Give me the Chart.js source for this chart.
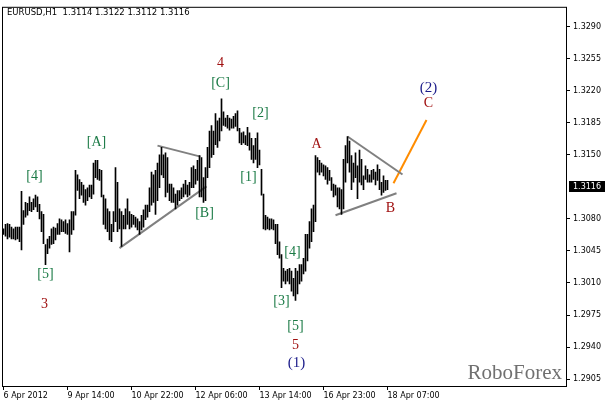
<!DOCTYPE html>
<html>
<head>
<meta charset="utf-8">
<script src="https://cdn.jsdelivr.net/npm/chart.js@4"></script>
<style>
html,body{margin:0;padding:0;background:#fff;}
canvas{display:block;}
</style>
</head>
<body>
<canvas id="eurusdChart" width="606" height="404"></canvas>
<script>
// EURUSD H1 bars, 6 Apr 2012 .. 18 Apr 07:00 (one value per hour bar)
const highs = [
 1.3069,1.3074,1.3075,1.3074,1.3071,1.3069,1.3071,1.3071,1.3071,1.3110,
 1.3089,1.3098,1.3097,1.3104,1.3098,1.3102,1.3106,1.3104,1.3096,1.3088,
 1.3085,1.3052,1.3058,1.3061,1.3069,1.3071,1.3070,1.3075,1.3080,1.3079,
 1.3077,1.3079,1.3075,1.3079,1.3088,1.3088,1.3133,1.3128,1.3123,1.3120,
 1.3117,1.3112,1.3114,1.3117,1.3117,1.3141,1.3144,1.3144,1.3134,1.3133,
 1.3106,1.3102,1.3091,1.3088,1.3074,1.3088,1.3136,1.3120,1.3091,1.3088,
 1.3084,1.3091,1.3102,1.3088,1.3085,1.3084,1.3082,1.3080,1.3077,1.3084,
 1.3090,1.3095,1.3095,1.3114,1.3131,1.3128,1.3133,1.3141,1.3150,1.3158,
 1.3150,1.3152,1.3147,1.3118,1.3118,1.3114,1.3107,1.3111,1.3111,1.3114,
 1.3118,1.3122,1.3117,1.3120,1.3136,1.3138,1.3134,1.3144,1.3149,1.3147,
 1.3125,1.3136,1.3158,1.3176,1.3182,1.3176,1.3195,1.3187,1.3190,1.3211,
 1.3197,1.3190,1.3193,1.3190,1.3189,1.3192,1.3195,1.3198,1.3179,1.3174,
 1.3175,1.3171,1.3180,1.3174,1.3168,1.3160,1.3168,1.3174,1.3155,1.3134,
 1.3107,1.3084,1.3082,1.3080,1.3080,1.3079,1.3074,1.3074,1.3055,1.3041,
 1.3026,1.3023,1.3025,1.3026,1.3023,1.3015,1.3026,1.3023,1.3030,1.3030,
 1.3037,1.3063,1.3063,1.3077,1.3091,1.3095,1.3149,1.3147,1.3144,1.3141,
 1.3139,1.3138,1.3136,1.3133,1.3125,1.3118,1.3117,1.3114,1.3114,1.3112,
 1.3145,1.3160,1.3170,1.3165,1.3149,1.3141,1.3152,1.3138,1.3155,1.3145,
 1.3127,1.3138,1.3134,1.3128,1.3133,1.3134,1.3131,1.3139,1.3134,1.3120,
 1.3127,1.3122,1.3122
];
const lows = [
 1.3063,1.3061,1.3058,1.3060,1.3058,1.3058,1.3057,1.3058,1.3055,1.3046,
 1.3074,1.3082,1.3084,1.3089,1.3088,1.3090,1.3093,1.3088,1.3080,1.3066,
 1.3053,1.3030,1.3042,1.3048,1.3052,1.3053,1.3057,1.3063,1.3063,1.3066,
 1.3066,1.3064,1.3063,1.3044,1.3063,1.3068,1.3084,1.3111,1.3102,1.3106,
 1.3098,1.3095,1.3100,1.3104,1.3102,1.3107,1.3125,1.3123,1.3122,1.3104,
 1.3074,1.3069,1.3066,1.3057,1.3055,1.3066,1.3077,1.3066,1.3069,1.3050,
 1.3069,1.3069,1.3074,1.3069,1.3071,1.3074,1.3071,1.3068,1.3063,1.3068,
 1.3071,1.3079,1.3082,1.3088,1.3095,1.3098,1.3085,1.3100,1.3114,1.3128,
 1.3125,1.3104,1.3109,1.3100,1.3098,1.3098,1.3091,1.3095,1.3100,1.3102,
 1.3104,1.3107,1.3104,1.3106,1.3114,1.3114,1.3118,1.3122,1.3104,1.3104,
 1.3098,1.3100,1.3125,1.3136,1.3147,1.3150,1.3161,1.3158,1.3165,1.3176,
 1.3182,1.3181,1.3179,1.3177,1.3179,1.3179,1.3181,1.3176,1.3163,1.3161,
 1.3163,1.3161,1.3160,1.3155,1.3145,1.3141,1.3145,1.3136,1.3139,1.3106,
 1.3069,1.3068,1.3069,1.3068,1.3069,1.3068,1.3053,1.3041,1.3037,1.3005,
 1.3012,1.3009,1.3012,1.3009,1.3001,1.2996,1.2991,1.2998,1.3009,1.3012,
 1.3020,1.3023,1.3034,1.3048,1.3055,1.3066,1.3077,1.3131,1.3128,1.3131,
 1.3127,1.3123,1.3118,1.3122,1.3111,1.3104,1.3106,1.3093,1.3091,1.3085,
 1.3091,1.3120,1.3141,1.3131,1.3112,1.3120,1.3125,1.3102,1.3120,1.3117,
 1.3112,1.3123,1.3120,1.3120,1.3120,1.3123,1.3117,1.3122,1.3112,1.3106,
 1.3109,1.3111,1.3112
];

const timeLabels = ['6 Apr 2012', '9 Apr 14:00', '10 Apr 22:00', '12 Apr 06:00', '13 Apr 14:00', '16 Apr 23:00', '18 Apr 07:00'];
const timeTickBars = [0, 32, 64, 96, 128, 160, 192];
const priceTicks = [1.3290, 1.3255, 1.3220, 1.3185, 1.3150, 1.3080, 1.3045, 1.3010, 1.2975, 1.2940, 1.2905];
const lastBar = { open: 1.3114, high: 1.3122, low: 1.3112, close: 1.3116 };

// trend lines, [bar, price] end points
const triangle1Low = [[58, 1.3048], [101.5, 1.31155]];
const triangle1High = [[77, 1.3160], [98.5, 1.3148]];
const triangle2High = [[172, 1.3170], [199.5, 1.31285]];
const triangle2Low = [[166, 1.3084], [196.5, 1.3108]];
const forecastC = [[195, 1.3119], [211.5, 1.3188]];

// wave marks: text, bar, price, degree
const waveMarks = [
  ['[4]', 15.5, 1.3127, 'minor'],
  ['[5]', 21, 1.3019, 'minor'],
  ['3', 20.5, 1.2987, 'inter'],
  ['[A]', 46.5, 1.3164, 'minor'],
  ['[B]', 100.5, 1.3086, 'minor'],
  ['[C]', 108.5, 1.3228, 'minor'],
  ['4', 108.5, 1.3250, 'inter'],
  ['[2]', 128.5, 1.3195, 'minor'],
  ['[1]', 122.5, 1.3125, 'minor'],
  ['[4]', 144.5, 1.3044, 'minor'],
  ['[3]', 139, 1.2990, 'minor'],
  ['[5]', 146, 1.2963, 'minor'],
  ['5', 146, 1.2942, 'inter'],
  ['(1)', 146.5, 1.2923, 'primary'],
  ['A', 156.5, 1.3161, 'inter'],
  ['B', 193.5, 1.3092, 'inter'],
  ['(2)', 212.5, 1.3223, 'primary'],
  ['C', 212.5, 1.3206, 'inter']
];

const markStyle = {
  minor: { color: '#1a7a45', font: '14px "Liberation Serif", serif' },
  inter: { color: '#a01010', font: '14px "Liberation Serif", serif' },
  primary: { color: '#1c1c8a', font: '15px "Liberation Serif", serif' }
};

const axisFont = { family: 'DejaVu Sans', size: 8 };

function toPoints(line) {
  return line.map(p => ({ x: p[0], y: p[1] }));
}
function trendLine(line, color) {
  return {
    type: 'line',
    data: toPoints(line),
    borderColor: color,
    borderWidth: 2,
    pointRadius: 0,
    fill: false,
    tension: 0
  };
}

const overlay = {
  id: 'overlay',
  afterDraw(chart) {
    const ctx = chart.ctx;
    const a = chart.chartArea;
    const xs = chart.scales.x, ys = chart.scales.y;
    ctx.save();

    // frame
    ctx.strokeStyle = '#000';
    ctx.lineWidth = 1;
    ctx.strokeRect(a.left - 0.5, a.top - 0.5, a.right - a.left + 1, a.bottom - a.top + 1);

    // wave marks
    ctx.textAlign = 'center';
    ctx.textBaseline = 'middle';
    waveMarks.forEach(m => {
      const st = markStyle[m[3]];
      ctx.font = st.font;
      ctx.fillStyle = st.color;
      ctx.fillText(m[0], xs.getPixelForValue(m[1]), ys.getPixelForValue(m[2]));
    });

    // header
    ctx.textAlign = 'left';
    ctx.font = '8.5px "DejaVu Sans"';
    ctx.fillStyle = '#000';
    ctx.fillText('EURUSD,H1  ' + [lastBar.open, lastBar.high, lastBar.low, lastBar.close].map(v => v.toFixed(4)).join(' '), 7, 13);

    // watermark
    ctx.textAlign = 'right';
    ctx.textBaseline = 'alphabetic';
    ctx.font = '21px "Liberation Serif", serif';
    ctx.fillStyle = '#707070';
    ctx.fillText('RoboForex', a.right - 4, a.bottom - 7);

    // last price box
    const py = Math.round(ys.getPixelForValue(lastBar.close));
    ctx.fillStyle = '#000';
    ctx.fillRect(a.right + 3, py - 5, 36, 11);
    ctx.fillStyle = '#fff';
    ctx.textAlign = 'left';
    ctx.textBaseline = 'middle';
    ctx.font = '8px "DejaVu Sans"';
    ctx.fillText(lastBar.close.toFixed(4), a.right + 7, py + 0.5);
    ctx.restore();
  }
};

new Chart(document.getElementById('eurusdChart'), {
  type: 'bar',
  data: {
    datasets: [
      {
        type: 'bar',
        data: highs.map((h, i) => ({ x: i, y: [lows[i], h] })),
        backgroundColor: '#000',
        borderWidth: 0,
        barThickness: 1
      },
      trendLine(triangle1Low, '#808080'),
      trendLine(triangle1High, '#808080'),
      trendLine(triangle2High, '#808080'),
      trendLine(triangle2Low, '#808080'),
      trendLine(forecastC, '#ff8c00')
    ]
  },
  options: {
    responsive: false,
    animation: false,
    events: [],
    layout: { padding: { left: 3, top: 3, right: 0, bottom: 0 } },
    plugins: { legend: { display: false }, tooltip: { enabled: false } },
    scales: {
      x: {
        type: 'linear',
        offset: false,
        min: -0.25,
        max: 281.25,
        afterFit: s => { s.height = 18; },
        afterBuildTicks: s => { s.ticks = timeTickBars.map(v => ({ value: v })); },
        grid: { offset: false, drawOnChartArea: false, drawTicks: true, tickLength: 4, color: '#000' },
        border: { display: false },
        ticks: {
          autoSkip: false,
          maxRotation: 0,
          align: 'start',
          padding: 1,
          color: '#000',
          font: axisFont,
          callback: v => timeLabels[timeTickBars.indexOf(v)]
        }
      },
      y: {
        position: 'right',
        min: 1.28975,
        max: 1.33105,
        afterFit: s => { s.width = 40; },
        afterBuildTicks: s => { s.ticks = priceTicks.map(v => ({ value: v })); },
        grid: { drawOnChartArea: false, drawTicks: true, tickLength: 4, color: '#000' },
        border: { display: false },
        ticks: {
          padding: 3,
          color: '#000',
          font: axisFont,
          callback: v => v.toFixed(4)
        }
      }
    }
  },
  plugins: [overlay]
});
</script>
</body>
</html>
